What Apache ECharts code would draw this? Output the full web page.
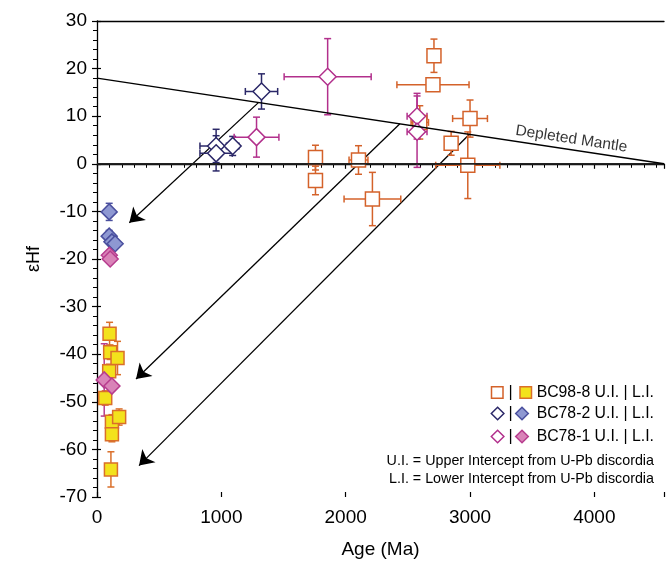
<!DOCTYPE html>
<html><head><meta charset="utf-8">
<script src="https://cdn.jsdelivr.net/npm/echarts@6/dist/echarts.min.js"></script>
<style>html,body{margin:0;padding:0;background:#fff}#c{width:667px;height:564px}</style>
</head><body><div id="c"></div>
<script>
// Each point: [age (Ma), eHf, age error, eHf error]
const bc98_8_UI = [
  [2710, 22.7, 0, 3.5],
  [2702, 16.6, 290, 0],
  [3000, 9.5, 140, 3.9],
  [2848, 4.3, 0, 2.5],
  [2982, -0.3, 258, 7.0],
  [1757, 1.3, 0, 2.6],
  [1757, -3.5, 0, 3.0],
  [2103, 0.8, 76, 3.0],
  [2215, -7.4, 228, 5.6],
  [2596, 8.7, 70, 3.5]
];
const bc78_2_UI = [
  [1323, 15.2, 130, 3.7],
  [958, 3.75, 130, 3.5],
  [958, 2.2, 130, 3.7],
  [1091, 3.75, 50, 2.0]
];
const bc78_1_UI = [
  [1855, 18.3, 350, 8.0],
  [1283, 5.6, 180, 4.2],
  [2574, 10.0, 80, 4.8],
  [2574, 6.75, 80, 7.5]
];
const bc98_8_LI = [
  [101, -35.7, 0, 2.4],
  [106, -39.6, 0, 1.5],
  [165, -40.8, 0, 3.5],
  [98, -43.6, 0, 1.5],
  [66, -49.2, 0, 1.5],
  [120, -54.2, 0, 1.5],
  [178, -53.2, 0, 1.7],
  [120, -56.8, 0, 1.6],
  [112, -64.2, 0, 3.7]
];
const bc78_2_LI = [
  [98, -10.1, 0, 1.8],
  [98, -15.2, 0, 1.2],
  [120, -16.4, 0, 0],
  [146, -16.8, 0, 0]
];
const bc78_1_LI = [
  [58, -45.4, 0, 7.6],
  [120, -46.7, 0, 0],
  [99, -19.2, 0, 0],
  [106, -20.0, 0, 0]
];
// Depleted mantle evolution line [age, eHf]
const depletedMantle = [[0, 18], [4560, 0]];
const zeroLine = [[0, 0], [4560, 0]];
// Arrows: [fromAge, fromEHf, toAge, toEHf]
const arrows = [
  [1300, 12.9, 260, -12.4],
  [2436, 8.4, 314, -45.2],
  [2995, 6.2, 338, -63.4]
];
const dmLabel = [[3815, 5.2]];
const legendLabels = ['BC98-8 U.I. | L.I.', 'BC78-2 U.I. | L.I.', 'BC78-1 U.I. | L.I.'];
const notes = ['U.I. = Upper Intercept from U-Pb discordia', 'L.I. = Lower Intercept from U-Pb discordia'];
const xTicks = [0, 1000, 2000, 3000, 4000];

const ORANGE = '#d4622a', YELLOW = '#f3e21c', YSTROKE = '#da6f2a';
const NAVY = '#2b2868', NAVYF = '#8e98d2', NAVYS = '#4a4f9e';
const MAG = '#b2308c', MAGF = '#d983b8', MAGS = '#b73c8e';
const FONT = '"Liberation Sans", Arial, sans-serif';

function errSeries(data, color) {
  return {
    type: 'custom',
    dimensions: ['x', 'y', 'ex', 'ey'],
    encode: { x: 0, y: 1 },
    data: data,
    silent: true,
    renderItem: function (params, api) {
      const x = api.value(0), y = api.value(1), ex = api.value(2), ey = api.value(3);
      const cap = 3.5;
      const st = { stroke: color, lineWidth: 1.5 };
      const ch = [];
      if (ex > 0) {
        const l = api.coord([x - ex, y]), r = api.coord([x + ex, y]);
        ch.push({ type: 'line', shape: { x1: l[0], y1: l[1], x2: r[0], y2: r[1] }, style: st });
        ch.push({ type: 'line', shape: { x1: l[0], y1: l[1] - cap, x2: l[0], y2: l[1] + cap }, style: st });
        ch.push({ type: 'line', shape: { x1: r[0], y1: r[1] - cap, x2: r[0], y2: r[1] + cap }, style: st });
      }
      if (ey > 0) {
        const t = api.coord([x, y + ey]), b = api.coord([x, y - ey]);
        ch.push({ type: 'line', shape: { x1: t[0], y1: t[1], x2: b[0], y2: b[1] }, style: st });
        ch.push({ type: 'line', shape: { x1: t[0] - cap, y1: t[1], x2: t[0] + cap, y2: t[1] }, style: st });
        ch.push({ type: 'line', shape: { x1: b[0] - cap, y1: b[1], x2: b[0] + cap, y2: b[1] }, style: st });
      }
      return { type: 'group', children: ch };
    }
  };
}
function markers(data, symbol, size, fill, stroke) {
  return {
    type: 'scatter', symbol: symbol, symbolSize: size,
    data: data.map(d => [d[0], d[1]]),
    itemStyle: { color: fill, borderColor: stroke, borderWidth: 1.5, opacity: 1 },
    silent: true
  };
}

const series = [
  { type: 'line', data: zeroLine, symbol: 'none', lineStyle: { color: '#222', width: 1.8 }, silent: true },
  { type: 'line', data: depletedMantle, symbol: 'none', lineStyle: { color: '#000', width: 1.5 }, silent: true },
  {
    type: 'lines', coordinateSystem: 'cartesian2d',
    data: arrows.map(a => ({ coords: [[a[0], a[1]], [a[2], a[3]]] })),
    symbol: ['none', 'arrow'], symbolSize: 14,
    lineStyle: { color: '#000', width: 1.3, opacity: 1 }, silent: true
  },
  {
    type: 'scatter', data: dmLabel, symbolSize: 0, silent: true,
    label: { show: true, position: 'inside', formatter: 'Depleted Mantle', rotate: -8.6, fontSize: 15.5, color: '#000', fontFamily: FONT }
  },
  errSeries(bc98_8_UI, ORANGE), markers(bc98_8_UI, 'rect', 14, '#fff', ORANGE),
  errSeries(bc78_2_UI, NAVY), markers(bc78_2_UI, 'diamond', 17, '#fff', NAVY),
  errSeries(bc78_1_UI, MAG), markers(bc78_1_UI, 'diamond', 17, '#fff', MAG),
  errSeries(bc98_8_LI, YSTROKE), markers(bc98_8_LI, 'rect', 13, YELLOW, YSTROKE),
  errSeries(bc78_2_LI, NAVYS), markers(bc78_2_LI, 'diamond', 16, NAVYF, NAVYS),
  errSeries(bc78_1_LI, MAGS), markers(bc78_1_LI, 'diamond', 16, MAGF, MAGS)
];

function diamond(cx, cy, r) {
  return [[cx, cy - r], [cx + r, cy], [cx, cy + r], [cx - r, cy]];
}
const rowsY = [392.5, 413.5, 436.5];
const graphic = [];
graphic.push({ type: 'rect', shape: { x: 491.5, y: rowsY[0] - 5.8, width: 11.5, height: 11.5 }, style: { fill: '#fff', stroke: ORANGE, lineWidth: 1.5 } });
graphic.push({ type: 'rect', shape: { x: 520, y: rowsY[0] - 5.8, width: 11.5, height: 11.5 }, style: { fill: YELLOW, stroke: YSTROKE, lineWidth: 1.5 } });
graphic.push({ type: 'polygon', shape: { points: diamond(497.6, rowsY[1], 6.3) }, style: { fill: '#fff', stroke: NAVY, lineWidth: 1.5 } });
graphic.push({ type: 'polygon', shape: { points: diamond(522, rowsY[1], 6.3) }, style: { fill: NAVYF, stroke: NAVYS, lineWidth: 1.5 } });
graphic.push({ type: 'polygon', shape: { points: diamond(497.6, rowsY[2], 6.3) }, style: { fill: '#fff', stroke: MAG, lineWidth: 1.5 } });
graphic.push({ type: 'polygon', shape: { points: diamond(522, rowsY[2], 6.3) }, style: { fill: MAGF, stroke: MAGS, lineWidth: 1.5 } });
rowsY.forEach((y, i) => {
  graphic.push({ type: 'text', x: 510.5, y: y, style: { text: '|', fontSize: 16, fontFamily: FONT, fill: '#000', align: 'center', verticalAlign: 'middle', textAlign: 'center', textVerticalAlign: 'middle' } });
  graphic.push({ type: 'text', x: 654, y: y, style: { text: legendLabels[i], fontSize: 15.8, fontFamily: FONT, fill: '#000', align: 'right', verticalAlign: 'middle', textAlign: 'right', textVerticalAlign: 'middle' } });
});
[461.5, 479].forEach((y, i) => {
  graphic.push({ type: 'text', x: 654, y: y, style: { text: notes[i], fontSize: 14.3, fontFamily: FONT, fill: '#000', align: 'right', verticalAlign: 'middle', textAlign: 'right', textVerticalAlign: 'middle' } });
});

const chart = echarts.init(document.getElementById('c'), null, { renderer: 'canvas' });
chart.setOption({
  animation: false,
  backgroundColor: '#fff',
  textStyle: { fontFamily: FONT },
  grid: { left: 97, right: 0, top: 21, bottom: 63, containLabel: false },
  xAxis: [
    {
      type: 'value', min: 0, max: 4560, interval: 1000, position: 'bottom',
      axisLine: { show: true, lineStyle: { color: '#000', width: 1.3 } },
      axisTick: { show: true, length: 5, lineStyle: { color: '#000', width: 1.2 } },
      splitLine: { show: false },
      axisLabel: { fontSize: 19, color: '#000', margin: 11, fontFamily: FONT,
        formatter: v => (xTicks.indexOf(v) >= 0 ? String(v) : '') },
      name: 'Age (Ma)', nameLocation: 'middle', nameGap: 43,
      nameTextStyle: { fontSize: 19, color: '#000', fontFamily: FONT }
    },
    {
      type: 'value', min: 0, max: 4560, interval: 100, position: 'bottom',
      axisLine: { show: false }, axisLabel: { show: false }, splitLine: { show: false },
      axisTick: { show: true, length: 4, lineStyle: { color: '#000', width: 1 } }
    },
    {
      type: 'value', min: 0, max: 4560, interval: 1000, position: 'bottom',
      axisLine: { show: false }, axisLabel: { show: false }, splitLine: { show: false },
      axisTick: { show: true, inside: true, length: 5, lineStyle: { color: '#000', width: 1.2 } }
    },
    {
      type: 'value', min: 0, max: 4560, position: 'top',
      axisLine: { show: true, lineStyle: { color: '#000', width: 1.3 } },
      axisTick: { show: false }, axisLabel: { show: false }, splitLine: { show: false }
    }
  ],
  yAxis: [
    {
      type: 'value', min: -70, max: 30, interval: 10, position: 'left',
      axisLine: { show: true, lineStyle: { color: '#000', width: 1.3 } },
      axisTick: { show: true, length: 5, lineStyle: { color: '#000', width: 1.2 } },
      minorTick: { show: true, splitNumber: 5, length: 4, lineStyle: { color: '#000', width: 1 } },
      splitLine: { show: false }, minorSplitLine: { show: false },
      axisLabel: { fontSize: 19, color: '#000', margin: 10, fontFamily: FONT },
      name: 'εHf', nameLocation: 'middle', nameGap: 54, nameRotate: 90,
      nameTextStyle: { fontSize: 18, color: '#000', fontFamily: FONT }
    },
    {
      type: 'value', min: -70, max: 30, interval: 10, position: 'left',
      axisLine: { show: false }, axisLabel: { show: false }, splitLine: { show: false },
      axisTick: { show: true, inside: true, length: 4, lineStyle: { color: '#000', width: 1.2 } }
    }
  ],
  series: series,
  graphic: graphic
});
</script>
</body></html>
